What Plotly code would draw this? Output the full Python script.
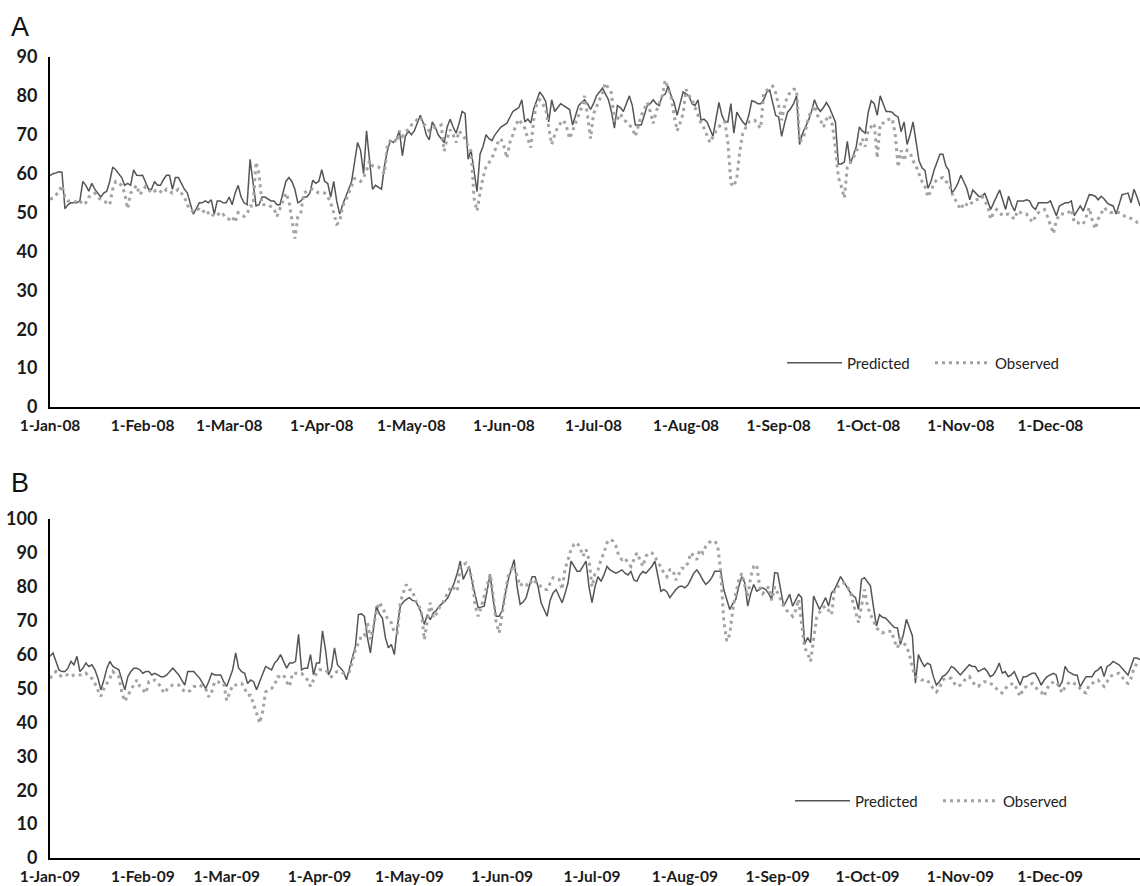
import plotly.graph_objects as go
import pandas as pd

# ---------------- DATA ----------------
# Panel A (2008) daily predicted / observed, per month
pred_2008 = (
    [59.5,60,60.2,60.5,60.4,51,52,52.5,52.5,52.5,53,58,57,55.5,57.5,56,55,54,55,55.5,58,61.7,61,60,59,57,57.5,57,61,59.6,59.5]
    + [59.6,58,56,56,58,57,57,58.5,59.6,59.6,56,59,59,57.5,56,55,52,49.6,51,52.5,52.5,53,52.5,53.3,49.6,53,53,52.5,52.5]
    + [54,52,55,57,54,52.5,52,63.7,58,51.7,52,54,54,53.5,53,53,52,52,55,58,59,58,56,52.5,53,54,54,55,58.3,57.5,58]
    + [61,58,57.5,54,58,53,49.6,52,54,56,58,63,68,66,60,71,63,56,57,56.5,56,62,66,68.5,68,69,71,64.6,69.6,71]
    + [70,71,73,75,73,70,68.7,73.3,72,70,69,68,72,74,72,70.4,73,76,75.5,63.7,66,60,55.4,65,67,70,69,68.5,70,71,72]
    + [72.5,73,74.5,76,76.5,77,79,73.3,74,73,76.7,79,81,80,78.5,73.3,79,76,77,78,77.5,77,76.5,72.5,75,77.5,78.3,79,78,76.5]
    + [78,80,81,82,80.5,79,76,71.7,77.5,77,76,78,80,77.5,72.5,72.5,72.5,75,77.5,78,79,78,77.5,80,80.4,82.5,80,78.3,75,78,81]
    + [80.5,80,78,77.5,79,73.75,74,73.3,71.5,69.6,74,78.3,75,73.3,73.3,78,70.4,75.8,74.5,73.3,72.5,75,78.75,78.5,78,78,79,81,81.5,78.3,75]
    + [74.6,69.6,73,75.8,76.7,78,80,67.5,70.4,72,73.75,76,79,77,76,77,78.3,77,75,73.3,62.5,62.5,63,68.3,62.5,65,67,72,71,70.4]
    + [75.8,78.75,78,75,80,78,76,76,75.8,75,74.6,70.8,73.3,67.5,70,73.3,68,63.3,61.5,60.8,56.25,58,60.8,63,65,65,62,60.8,55,56,57.5]
    + [59.6,58,56.25,53.3,55.8,55,54.2,54,55,53,50.8,52.5,54,55.8,53.3,50.8,54.2,52,50.4,53,53,53,53.3,53,51.5,50.8,52.5,52.5,52.5,52.5]
    + [53,51,49.2,51.7,52,52.5,52.5,53,49.2,50.5,51.7,50.4,52.5,54.6,54.5,54.2,53.3,54.2,53.5,52.5,52,51.7,49.6,52,54.6,54.8,55,52.5,56,54,51.7]
)
obs_2008 = (
    [53.5,53.7,54.5,55.4,57,54,53,53,53,52.5,53,52,52.5,54,54.5,55,54,53.3,53,52.5,52,56,58,57.5,57,55,51,55,56,57,54.6]
    + [55.5,56.7,56,55,55.4,56,55.4,55,56,55.4,55,55.4,56,55,54,52,50.5,50.4,51,50.8,50,50.8,50,49,49.6,50,49,49.5,48.5]
    + [48.3,49,47.5,50,49.5,49,49.6,51.7,51.7,63,60,52,52,52,51.5,51,49,51,53,55,53,48,43.3,49,50,55,55.5,56,56,55.5,55]
    + [55,55,54,52.5,50,47,47.5,51.7,53,55,57,58.75,58.5,58,59,60.8,63.3,62,61.7,61.7,61,60,67.5,68.5,69,68,71,69.6,70.5,71.5]
    + [72.5,73,74,74.6,73,72,71,71.5,72,72,72.5,65.8,69,71.3,70,68,71,70,69,67,65.8,53.75,50.4,55,59,61.7,63,64,66,68,69]
    + [67,64,68,70,72.5,74,73,71.7,69,66.7,74,78.3,79,78,76.7,72,67.5,70,72,73,73.75,72,69,71,73.3,75,77,80,75,69]
    + [75.4,77,79,80.8,83.3,82,80.8,73.3,74,75.4,74,73.3,72.5,71.7,69.6,72,75,76.5,78.3,76,72.9,76,78,80,84,82,80,75,71,73,75.4]
    + [81.7,80,79,77,75,73,71.7,70,68,69.5,71,72,73,73.3,68,57.5,56.7,59,65.8,70.4,72,73.3,73.5,73.75,72.5,71.7,80.8,81.5,82,82.5,80.8]
    + [77.5,73.75,77.5,80,81,81.7,81.7,68.3,68.75,71,74.6,76,77.5,75,73.75,72,74,75,72.5,66.7,59,56.7,53.75,61.7,63,64,66,66.7,69,67]
    + [71.3,72,72.9,64,72.9,73,73.75,74,74.2,70.4,61.7,66,63.3,66,65.4,63.3,62,60,58,56.7,54,55.5,57.5,58.5,58.75,59,58,57.5,55,53.3,52]
    + [50.8,52.5,52,51.7,53,53.3,53.5,54.2,53,51.7,48.3,50,50.8,50,49.2,49.5,49.6,49,48.3,50.4,50,49.6,49.6,48.5,47.5,49,50,50.5,50.8,49]
    + [46.7,44.6,48,49.6,49.6,49.6,50,50.8,47.5,47.5,47,47,49,51.25,48,45.8,48.3,50,51.25,50.5,50,50,50,50,49.6,49,48.75,48.5,48,47.5,47.5]
)

# Panel B (2009)
pred_2009 = (
    [59.5,60.5,58,55.5,55,55,56,58,57,59.5,55,56,57.5,56.5,57,55.5,53,49.6,52.5,56,58,56.5,56,55.5,52.5,49.6,53.5,55,56,56,55.5]
    + [54.5,55,55,54,54.5,54,53.5,53.5,54,55,56,55,54,52.5,51,55,55,55,54,53,51.5,50,52,54.5,54,54,54,52]
    + [50.6,53,55.5,60.5,56,55,54.5,51.5,52.5,52,49.6,52,54.5,56.5,56,55.5,57.5,58.5,60,58,56,57.5,57.5,58,66,55.5,56,56,60,54,57.5]
    + [57.5,67,61.5,54,56,62,57,56,55,52.6,56,59.5,62.5,71.8,72,71.3,65,60.5,67,74.3,72,70.8,65,62,63,60,68.4,74.3,75.5,76.3]
    + [76.8,76,75.8,74.3,72.3,68.9,71.8,70.3,72.3,73,74.3,75,75.8,77,79.2,81.2,84,87.6,82.2,84,86,81.2,77,73.8,74,74.3,79,83.7,76,71.3,71.3]
    + [73,77.7,82,85,88,80,74.8,75.5,76.8,80,83,83,80,75.3,73,71.3,76,78.2,79.2,77,75.3,78,81.2,87.6,86,84.6,84.6,86,87.6,80]
    + [75.3,80,83,81.6,83.5,86,85,84.5,84,84.5,85,84,83.5,84.5,82,81.6,83.5,84.5,84,85,86,87.6,83,78.7,79.2,78.5,76.8,78,79.2,80,80.2]
    + [79.7,80.5,82.2,84,85,83.7,82,80.7,81.5,82.7,84.6,84.6,84.6,79.2,76,73.3,75,76.3,80,83,81.2,74.3,78,80.7,78.7,79.2,79.7,79.2,78,76.3,84.2]
    + [84,79.6,74.3,76,77.8,74.3,76,77.8,76.8,63,65,63.5,77.3,75,73.3,75,76.8,74.3,78.2,79.2,81,83,81.6,80,78.7,77.5,76.8,73.3,82.2,82.7]
    + [81.5,80.2,74,68.4,71.8,71,70.8,70,68.9,68,67.9,63,66,70.4,68,65.5,51.6,60,58,56.5,57.5,57,53.5,51,52,53.5,54,55,56.5,56,55]
    + [54,55,56,57,56.5,56.5,55,55.5,56,55,53.5,54,55.5,57.5,54.5,55,53.5,54,55,53,51,53.5,53.5,54,54.5,54.5,53,51,52.5,53.5]
    + [54,54.5,54,50.5,52,56.5,55,54.5,54,54,50.5,52,53.5,53.5,53.5,55,55.5,56.5,53.5,56.5,57,58,57.5,57,56,55,54,56.5,59,59,58.5]
)
obs_2009 = (
    [53,54,55,54,53.5,54,54,53.5,54,54,54,54,54.5,53.5,53,51.5,49.5,47.7,50,51.5,53,55,54,53.5,48.7,46.2,48,49.6,51,52.5,50.6]
    + [49.5,48.6,52,52,52.5,51.5,50.6,48.6,49.5,50.6,51,51,51,50,49,49,49.5,50.6,50.6,51,50.5,50,47.5,49,52,52,51.5,51.5]
    + [46.5,49,51,51,51.2,51.5,50,48,48,45.5,42.7,39.8,43.2,49,49.6,50,51,53.5,53.5,54,52,50.6,54.5,54.5,54.5,54.5,53.5,52.5,50.6,52.5,54.5]
    + [55.5,55.5,55.5,54.5,53.5,54.5,55,55,54.5,54.5,55,58,61.5,63.5,65.5,65.5,69.4,64.5,68,72.9,75.4,74,72,70,69.4,66.4,66.4,75.4,78.3,80.7]
    + [79.2,79,76,74.8,72.8,64.4,69.9,75.3,70.8,72,73.8,75,76.8,78.5,80.2,79.5,78.7,86,86.5,87,85,82.2,74.3,71.3,74,77.3,80,83.7,77.3,69.4,66.4]
    + [72.3,78,83.2,85,86.2,83,80.2,81.2,80.7,80.2,82.2,81.5,81.2,80,79.2,79.2,81,82.7,82.5,82.2,79.2,85.2,88,91,92.5,93,91.5,89,91,88]
    + [80,84,85,88,90,93,94,93.5,92,89,88,88.5,87,86,88,90,88,86,89,90,90,89,87,86,84,83,85,85,82,84,85.5]
    + [85.5,87,90,89,88,91,90,92,93,93.5,93.5,92,84.5,70,64,66,73,78,82,84,80,77,83,86,86.5,80,78,79,80,76,80]
    + [78.2,76,74.3,73,72.3,71.3,73,76.3,69.4,62,60.5,58,64.5,70.8,72.5,73.8,74.3,73,71.8,79.2,80,80.7,81.2,80,79.2,76,72.3,69.4,74.3,79.2]
    + [74.3,71.8,70,67.9,67,66.4,66.9,67,66.9,64,62,64.5,63.5,62.5,60,56,53.5,53,52.5,52.5,52.5,51,50,49,50,52.5,53,53,53,51.5,50.6]
    + [51,52,53,53.5,52,51,50.6,51.5,52,52,51.5,51,50,49,48.7,50,51,51.3,51.5,49.5,47.7,50,50.5,51,51.5,50.5,49.5,49,47.7,50]
    + [51.5,51.8,52,50.5,48.7,50.5,51.5,52,51.5,51,50,49,48.7,51,51.5,52,52.5,51.5,50.6,52,53.5,54,54.2,54.5,53.5,52,51.5,53,56,57.5,57]
)

months = ["Jan","Feb","Mar","Apr","May","Jun","Jul","Aug","Sep","Oct","Nov","Dec"]
ticktext_2008 = [f"1-{m}-08" for m in months]
ticktext_2009 = [f"1-{m}-09" for m in months]
yticks_a = list(range(0, 91, 10))
yticks_b = list(range(0, 101, 10))

dates_2008 = pd.date_range("2008-01-01", "2008-12-31", freq="D")
dates_2009 = pd.date_range("2009-01-01", "2009-12-31", freq="D")
assert len(pred_2008) == len(dates_2008) == len(obs_2008)
assert len(pred_2009) == len(dates_2009) == len(obs_2009)
tickvals_2008 = pd.date_range("2008-01-01", periods=12, freq="MS")
tickvals_2009 = pd.date_range("2009-01-01", periods=12, freq="MS")

# ---------------- FIGURE ----------------
W, H = 1140, 886
PRED_COLOR = "#555555"
OBS_COLOR = "#a3a3a3"
pred_line = dict(color=PRED_COLOR, width=1.5)
obs_line = dict(color=OBS_COLOR, width=3, dash="3px,4px")

fig = go.Figure()
fig.add_trace(go.Scatter(x=dates_2008, y=pred_2008, mode="lines", name="Predicted",
                         line=pred_line, xaxis="x", yaxis="y", legend="legend"))
fig.add_trace(go.Scatter(x=dates_2008, y=obs_2008, mode="lines", name="Observed",
                         line=obs_line, xaxis="x", yaxis="y", legend="legend"))
fig.add_trace(go.Scatter(x=dates_2009, y=pred_2009, mode="lines", name="Predicted",
                         line=pred_line, xaxis="x2", yaxis="y2", legend="legend2"))
fig.add_trace(go.Scatter(x=dates_2009, y=obs_2009, mode="lines", name="Observed",
                         line=obs_line, xaxis="x2", yaxis="y2", legend="legend2"))

tick_font_x = dict(family="Lato", size=15.5, color="#1a1a1a", weight="bold")
tick_font_y = dict(family="Lato", size=18, color="#1a1a1a", weight="bold")

def xax(domain, anchor, rng, tv, tt, standoff):
    return dict(domain=domain, anchor=anchor, type="date", range=rng,
                tickvals=tv, ticktext=tt, showline=True, linecolor="black",
                linewidth=2, showgrid=False, zeroline=False, ticks="",
                tickfont=tick_font_x, ticklabelstandoff=standoff, fixedrange=True,
                automargin=False)

def yax(domain, anchor, rng, tv):
    return dict(domain=domain, anchor=anchor, range=rng, tickvals=tv,
                showline=True, linecolor="black", linewidth=2, showgrid=False,
                zeroline=False, ticks="", tickfont=tick_font_y,
                ticklabelstandoff=7, fixedrange=True, automargin=False)

legend_style = dict(orientation="h", xanchor="left", yanchor="middle",
                    font=dict(family="Lato", size=15, color="#222222"),
                    bgcolor="rgba(0,0,0,0)", itemwidth=55, entrywidth=78,
                    entrywidthmode="pixels", tracegroupgap=0, borderwidth=0)

x_dom = [50 / W, 1.0]
fig.update_layout(
    width=W, height=H, autosize=False,
    margin=dict(l=0, r=0, t=0, b=0, pad=0, autoexpand=False),
    paper_bgcolor="white", plot_bgcolor="white",
    xaxis=xax(x_dom, "y", ["2008-01-01", "2008-12-31"], tickvals_2008, ticktext_2008, 3),
    yaxis=yax([1 - 407 / H, 1 - 57 / H], "x", [0, 90], yticks_a),
    xaxis2=xax(x_dom, "y2", ["2009-01-01", "2009-12-31"], tickvals_2009, ticktext_2009, 3),
    yaxis2=yax([1 - 858 / H, 1 - 519 / H], "x2", [0, 100], yticks_b),
    legend=dict(legend_style, x=782 / W, y=1 - 363 / H),
    legend2=dict(legend_style, x=790 / W, y=1 - 801 / H),
    annotations=[
        dict(text="A", x=9 / W, y=1 - 27 / H, xref="paper", yref="paper",
             xanchor="left", yanchor="middle", showarrow=False,
             font=dict(family="Liberation Sans", size=27, color="#111111")),
        dict(text="B", x=9 / W, y=1 - 483 / H, xref="paper", yref="paper",
             xanchor="left", yanchor="middle", showarrow=False,
             font=dict(family="Liberation Sans", size=27, color="#111111")),
    ],
)

fig.write_html("out.html", config={"displayModeBar": False},
               post_script="document.body.style.margin='0';document.body.style.overflow='hidden';")
